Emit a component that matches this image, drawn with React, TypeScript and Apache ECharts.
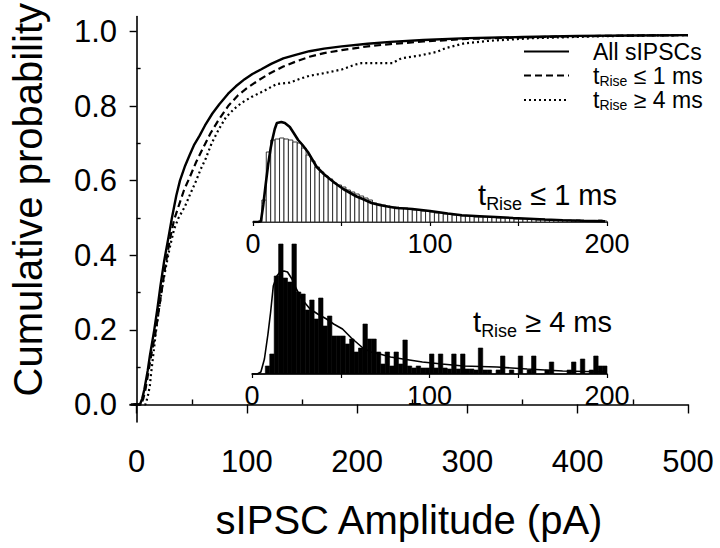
import { useEffect, useRef } from 'react';
import * as echarts from 'echarts';

const FONT = '"Liberation Sans", Arial, Helvetica, sans-serif';

// Main axes ticks
const X_TICKS = [0, 100, 200, 300, 400, 500];
const X_MINOR = [50, 150, 250, 350, 450];
const Y_TICKS = [0, 0.2, 0.4, 0.6, 0.8, 1.0];
const Y_MINOR = [0.1, 0.3, 0.5, 0.7, 0.9];
// Inset axes ticks
const INSET_TICKS = [0, 50, 100, 150, 200];
const INSET_LABELS = [0, 100, 200];
const BIN_WIDTH = 2.5;

// Cumulative probability curves [amplitude pA, probability]
const ALL_SIPSCS = [
  [-5, 0], [3, 0], [5, 0.015], [7, 0.04], [8.5, 0.065], [10, 0.09], [12, 0.13], [14, 0.165], [16, 0.2],
  [19, 0.26], [21.7, 0.32], [25, 0.385], [29, 0.45], [32, 0.5], [36, 0.56], [39.3, 0.6], [44, 0.64],
  [48, 0.668], [52, 0.695], [57, 0.72], [62, 0.748], [68.7, 0.78], [75, 0.805], [83, 0.833], [90, 0.853],
  [98, 0.872], [105, 0.886], [112.7, 0.898], [122, 0.913], [133, 0.928], [145, 0.938], [156.7, 0.947],
  [170, 0.954], [186, 0.96], [209.5, 0.967], [230, 0.972], [260, 0.977], [300, 0.982], [350, 0.985],
  [400, 0.988], [450, 0.989], [500, 0.99],
];
const RISE_FAST = [
  [-3, 0], [4, 0], [6, 0.015], [8, 0.04], [10, 0.075], [12, 0.11], [14, 0.145], [17, 0.19], [20, 0.25],
  [23, 0.31], [26, 0.37], [30, 0.44], [34, 0.495], [37.9, 0.53], [43, 0.575], [48, 0.608], [54, 0.65],
  [60, 0.686], [67, 0.727], [74.6, 0.764], [83, 0.8], [92, 0.829], [100, 0.848], [110, 0.868], [121, 0.888],
  [133, 0.906], [145, 0.92], [156.7, 0.932], [170, 0.942], [186, 0.95], [209.5, 0.96], [230, 0.966],
  [260, 0.973], [300, 0.98], [350, 0.984], [400, 0.987], [450, 0.989], [500, 0.99],
];
const RISE_SLOW = [
  [-2, 0], [8, 0], [10, 0.02], [12, 0.05], [13, 0.08], [15, 0.13], [17.3, 0.19], [20, 0.25], [23, 0.31],
  [26, 0.36], [30, 0.42], [34, 0.47], [38, 0.5], [43.7, 0.53], [48, 0.56], [54, 0.6], [58, 0.63],
  [62.8, 0.66], [68, 0.7], [74.6, 0.738], [81, 0.77], [89, 0.794], [96, 0.81], [104, 0.824], [115, 0.84],
  [127, 0.859], [139, 0.863], [148, 0.873], [156.7, 0.881], [170, 0.888], [186, 0.898], [198, 0.911],
  [204, 0.915], [215, 0.915], [232, 0.915], [240, 0.928], [256, 0.935], [272, 0.945], [280, 0.955],
  [297, 0.968], [320, 0.975], [360, 0.982], [420, 0.987], [460, 0.989], [500, 0.99],
];

// Inset histograms: counts per 2.5 pA bin (relative units)
const FAST_HIST = [
  0, 0, 22, 70, 82, 83, 84, 83, 82, 80, 79, 74, 67, 61, 55, 50, 46, 43, 39, 37,
  35, 32, 30, 28, 26, 24, 22, 19, 18, 17, 16, 15, 15, 14, 14, 13, 12, 12, 11, 11,
  10, 9, 9, 8, 8, 7, 7, 6, 6, 6, 5, 5, 5, 5, 5, 4, 4, 4, 4, 3,
  3, 3, 3, 3, 2, 3, 2, 2, 2, 2, 2, 2, 1, 2, 1, 1, 1, 1, 2, 1,
];
const FAST_FIT = [
  [0, 0], [3, 0], [4.5, 1], [5.8, 17], [7.2, 38], [8.6, 58], [10, 74], [11, 83], [12.3, 93], [13.5, 99],
  [16, 100], [18, 99], [20.8, 95], [23, 89], [25.5, 82], [28, 77], [31, 70], [34, 61], [36, 55], [40, 48],
  [43.4, 43], [47, 38], [51, 33], [55, 29], [58.5, 25.5], [62, 23], [67, 19], [71.5, 17], [76, 15.5],
  [81, 14], [86, 13.5], [90, 13], [95, 12], [100, 11], [110, 8.5], [118, 6.7], [128, 5.8], [137, 5],
  [147, 4], [156, 3.3], [165, 2.5], [175, 1.8], [187, 1.2], [199, 0.8],
];
const SLOW_HIST = [
  0, 0, 0, 8, 20, 98, 130, 96, 92, 130, 82, 80, 64, 74, 55, 76, 48, 58, 38, 38,
  38, 30, 35, 22, 26, 50, 35, 35, 22, 10, 22, 8, 22, 10, 34, 8, 6, 8, 6, 6,
  20, 6, 20, 6, 5, 20, 5, 20, 5, 5, 4, 26, 4, 4, 0, 4, 18, 0, 4, 0,
  18, 0, 4, 18, 0, 0, 4, 12, 0, 0, 0, 4, 12, 0, 15, 0, 4, 18, 8, 8,
];
const SLOW_FIT = [
  [0, 0], [3, 0], [5, 2], [7, 15], [9, 40], [10.5, 62], [12, 88], [14, 98], [15.8, 102], [18, 103],
  [20, 102], [22.5, 95], [25, 85], [28, 75], [32.7, 65], [37, 60], [42, 55], [46, 50], [51, 45],
  [56, 36], [62.5, 26], [67, 22], [72, 20], [78, 17], [85, 15], [96, 12], [107, 10], [119, 8],
  [138, 7], [155, 5], [175, 3], [188, 2.5], [200, 2],
];

const LEGEND_NAMES = ['All sIPSCs', 'tRise ≤ 1 ms', 'tRise ≥ 4 ms'];

const histData = (h: number[]) => h.map((v, i) => [i * BIN_WIDTH, (i + 1) * BIN_WIDTH, v]);

const histRender = (fill: string, stroke: string, lw: number) => (_p: any, api: any) => {
  const h = api.value(2);
  const a = api.coord([api.value(0), h]);
  const b = api.coord([api.value(1), 0]);
  return {
    type: 'rect',
    shape: { x: a[0], y: a[1], width: b[0] - a[0], height: b[1] - a[1] },
    style: { fill, stroke, lineWidth: lw },
  };
};

const richLabel = (name: string) =>
  name.startsWith('tRise') ? `{a|t}{s|Rise}{a|${name.slice(5)}}` : `{a|${name}}`;

const insetAxis = (gridIndex: number) => ({
  type: 'value', gridIndex, min: 0, max: 200,
  axisLine: { show: true, lineStyle: { color: '#000', width: 1.5 } },
  axisTick: { show: true, customValues: INSET_TICKS, length: 4, lineStyle: { color: '#000', width: 1.2 } },
  axisLabel: { show: true, customValues: INSET_LABELS, fontSize: 27, fontFamily: FONT, color: '#000', margin: 8 },
  splitLine: { show: false },
});

export default function App() {
  const ref = useRef<HTMLDivElement>(null);
  useEffect(() => {
    const chart = echarts.init(ref.current!, null, { renderer: 'svg' });
    const option: any = {
      animation: false,
      backgroundColor: '#fff',
      textStyle: { fontFamily: FONT },
      grid: [
        { left: 115, right: 32, top: 3, bottom: 126 },
        { left: 253, right: 113, top: 112, bottom: 326 },
        { left: 252, right: 113, top: 239, bottom: 174 },
      ],
      xAxis: [
        {
          type: 'value', gridIndex: 0, min: -6, max: 500,
          name: 'sIPSC Amplitude (pA)', nameLocation: 'middle', nameGap: 78,
          nameTextStyle: { fontSize: 40, fontFamily: FONT, color: '#000' },
          axisLine: { show: true, lineStyle: { color: '#000', width: 1.6 } },
          axisTick: { show: true, customValues: X_TICKS, length: 9, lineStyle: { color: '#000', width: 1.4 } },
          axisLabel: { show: true, customValues: X_TICKS, fontSize: 31, fontFamily: FONT, color: '#000', margin: 24 },
          splitLine: { show: false },
        },
        {
          type: 'value', gridIndex: 0, min: -6, max: 500,
          axisLine: { show: false },
          axisTick: { show: true, customValues: X_MINOR, length: 5, lineStyle: { color: '#000', width: 1.4 } },
          axisLabel: { show: false },
          splitLine: { show: false },
        },
        insetAxis(1),
        insetAxis(2),
      ],
      yAxis: [
        {
          type: 'value', gridIndex: 0, min: -0.047, max: 1.04,
          name: 'Cumulative probability', nameLocation: 'middle', nameGap: 82,
          nameTextStyle: { fontSize: 40, fontFamily: FONT, color: '#000', padding: [0, 0, 0, 39] },
          axisLine: { show: true, lineStyle: { color: '#000', width: 1.6 } },
          axisTick: { show: true, customValues: Y_TICKS, length: 7, lineStyle: { color: '#000', width: 1.4 } },
          axisLabel: {
            show: true, customValues: Y_TICKS, fontSize: 31, fontFamily: FONT, color: '#000', margin: 13,
            formatter: (v: number) => v.toFixed(1),
          },
          splitLine: { show: false },
        },
        {
          type: 'value', gridIndex: 0, min: -0.047, max: 1.04,
          axisLine: { show: false },
          axisTick: { show: true, customValues: Y_MINOR, length: 4, lineStyle: { color: '#000', width: 1.4 } },
          axisLabel: { show: false },
          splitLine: { show: false },
        },
        { type: 'value', gridIndex: 1, min: 0, max: 110, show: false },
        { type: 'value', gridIndex: 2, min: 0, max: 135, show: false },
      ],
      legend: {
        orient: 'vertical', left: 523, top: 40, padding: 0, itemWidth: 45, itemHeight: 14, itemGap: 1,
        data: LEGEND_NAMES,
        formatter: richLabel,
        itemStyle: { opacity: 0 },
        textStyle: {
          fontSize: 23, color: '#000', padding: [0, 0, 0, 19],
          rich: {
            a: { fontSize: 23, fontFamily: FONT, color: '#000', lineHeight: 24 },
            s: { fontSize: 14, fontFamily: FONT, color: '#000', lineHeight: 13, verticalAlign: 'bottom' },
          },
        },
      },
      graphic: [
        {
          type: 'text', x: 617, y: 195, z: 10,
          style: {
            text: richLabel('tRise ≤ 1 ms'), align: 'right', verticalAlign: 'middle',
            rich: {
              a: { fontSize: 29, fontFamily: FONT, fill: '#000', lineHeight: 36 },
              s: { fontSize: 18, fontFamily: FONT, fill: '#000', lineHeight: 18, verticalAlign: 'bottom' },
            },
          },
        },
        {
          type: 'text', x: 612, y: 322, z: 10,
          style: {
            text: richLabel('tRise ≥ 4 ms'), align: 'right', verticalAlign: 'middle',
            rich: {
              a: { fontSize: 29, fontFamily: FONT, fill: '#000', lineHeight: 36 },
              s: { fontSize: 18, fontFamily: FONT, fill: '#000', lineHeight: 18, verticalAlign: 'bottom' },
            },
          },
        },
      ],
      series: [
        {
          name: LEGEND_NAMES[0], type: 'line', xAxisIndex: 0, yAxisIndex: 0, data: ALL_SIPSCS,
          symbol: 'none', smooth: false, lineStyle: { color: '#000', width: 2.4, type: 'solid' },
          itemStyle: { color: '#000' },
        },
        {
          name: LEGEND_NAMES[1], type: 'line', xAxisIndex: 0, yAxisIndex: 0, data: RISE_FAST,
          symbol: 'none', lineStyle: { color: '#000', width: 2.2, type: [7, 4] },
          itemStyle: { color: '#000' },
        },
        {
          name: LEGEND_NAMES[2], type: 'line', xAxisIndex: 0, yAxisIndex: 0, data: RISE_SLOW,
          symbol: 'none', lineStyle: { color: '#000', width: 2.2, type: [2, 3] },
          itemStyle: { color: '#000' },
        },
        {
          name: 'fast histogram', type: 'custom', xAxisIndex: 2, yAxisIndex: 2,
          data: histData(FAST_HIST), encode: { x: [0, 1], y: 2 },
          renderItem: histRender('#fff', '#222', 0.9),
        },
        {
          name: 'fast fit', type: 'line', xAxisIndex: 2, yAxisIndex: 2, data: FAST_FIT,
          symbol: 'none', lineStyle: { color: '#000', width: 2.6 },
        },
        {
          name: 'slow histogram', type: 'custom', xAxisIndex: 3, yAxisIndex: 3,
          data: histData(SLOW_HIST), encode: { x: [0, 1], y: 2 },
          renderItem: histRender('#000', '#000', 0.6),
        },
        {
          name: 'slow fit', type: 'line', xAxisIndex: 3, yAxisIndex: 3, data: SLOW_FIT,
          symbol: 'none', lineStyle: { color: '#000', width: 1.6 },
        },
      ],
    };
    chart.setOption(option);
    return () => chart.dispose();
  }, []);
  return <div ref={ref} style={{ position: 'absolute', left: 0, top: 0, width: 720, height: 548 }} />;
}
